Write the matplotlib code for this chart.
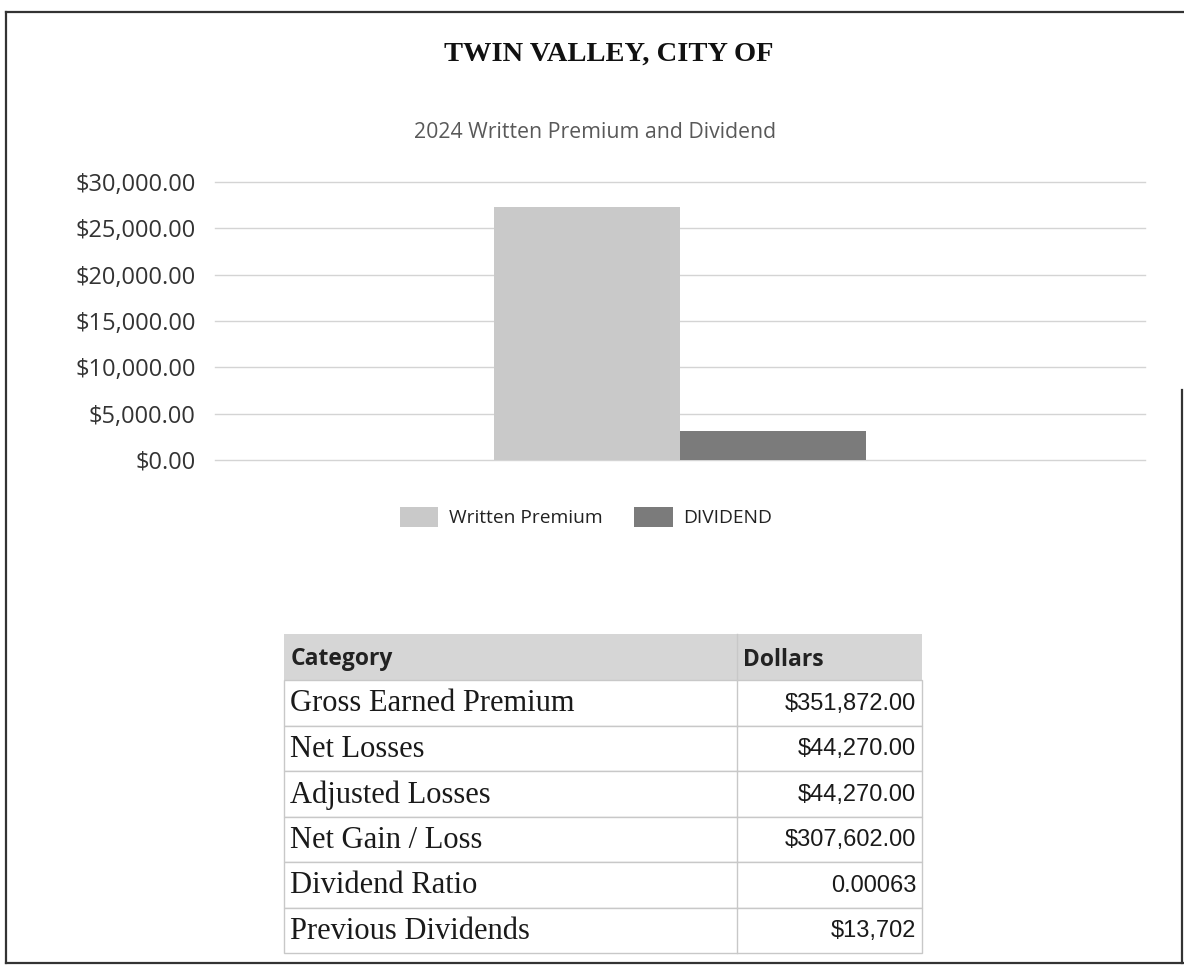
import matplotlib.pyplot as plt
from matplotlib.patches import Rectangle

# --- data ---
title = 'TWIN VALLEY, CITY OF'
chart_title = '2024 Written Premium and Dividend'
series_names = ['Written Premium', 'DIVIDEND']
series_values = [27250, 3100]
series_colors = ['#c9c9c9', '#7b7b7b']
y_ticks = [0, 5000, 10000, 15000, 20000, 25000, 30000]

table_header = ['Category', 'Dollars']
table_categories = ['Gross Earned Premium', 'Net Losses', 'Adjusted Losses',
                    'Net Gain / Loss', 'Dividend Ratio', 'Previous Dividends']
table_values = ['$351,872.00', '$44,270.00', '$44,270.00',
                '$307,602.00', '0.00063', '$13,702']

W, H = 1184, 965
fig = plt.figure(figsize=(W / 100, H / 100), dpi=100)

# overlay axes in pixel coordinates (border, titles, table)
bg = fig.add_axes([0, 0, 1, 1])
bg.set_xlim(0, W)
bg.set_ylim(H, 0)
bg.axis('off')

# page border
bg.plot([6, W], [12, 12], color='#333333', lw=1.6)
bg.plot([6, 6], [12, 963], color='#333333', lw=1.6)
bg.plot([6, W], [963, 963], color='#333333', lw=1.6)
bg.plot([1182, 1182], [390, 963], color='#333333', lw=1.6)

bg.text(609, 54, title, ha='center', va='center', fontsize=20.5,
        fontweight='bold', family='Liberation Serif', color='#111111')
bg.text(595, 133, chart_title, ha='center', va='center', fontsize=15.3,
        family='Open Sans', color='#595959')

# --- bar chart ---
x0, x1, ytop, ybot = 215, 1145, 182, 460
ax = fig.add_axes([x0 / W, 1 - ybot / H, (x1 - x0) / W, (ybot - ytop) / H])
width = 0.2
for i, (name, val, col) in enumerate(zip(series_names, series_values, series_colors)):
    ax.bar((i - 0.5) * width, val, width=width, color=col, label=name, zorder=3)
ax.set_xlim(-0.5, 0.5)
ax.set_ylim(0, 30000)
ax.set_yticks(y_ticks)
ax.set_yticklabels([f'${v:,.2f}' for v in y_ticks], family='Open Sans',
                   fontsize=17, color='#333333')
ax.set_xticks([])
ax.tick_params(axis='y', length=0, pad=14)
ax.grid(True, axis='y', color='#d4d4d4', lw=1.0, zorder=0)
for gl in ax.get_ygridlines():
    gl.set_clip_on(False)
for s in ax.spines.values():
    s.set_visible(False)

fig.legend(loc='center', bbox_to_anchor=(586 / W, 1 - 517 / H), ncol=2,
           frameon=False, prop={'family': 'Open Sans', 'size': 13.8},
           handlelength=2.0, handleheight=1.3, handletextpad=0.55,
           columnspacing=1.65, labelcolor='#222222')

# --- table ---
tx0, tsplit, tx1 = 284, 737, 922
ty0, header_h, row_h = 634, 46, 45.5
bg.add_patch(Rectangle((tx0, ty0), tx1 - tx0, header_h, facecolor='#d6d6d6',
                       edgecolor='none'))
bg.text(tx0 + 7, ty0 + header_h / 2 + 2, table_header[0], ha='left', va='center',
        fontsize=16.5, fontweight='bold', family='Open Sans', color='#222222')
bg.text(tsplit + 6, ty0 + header_h / 2 + 3, table_header[1], ha='left', va='center',
        fontsize=16.5, fontweight='bold', family='Open Sans', color='#222222')

y = ty0 + header_h
for cat, val in zip(table_categories, table_values):
    bg.add_patch(Rectangle((tx0, y), tx1 - tx0, row_h, facecolor='white',
                           edgecolor='#c8c8c8', lw=1.0))
    bg.plot([tsplit, tsplit], [y, y + row_h], color='#c8c8c8', lw=1.0)
    bg.text(tx0 + 6, y + row_h / 2 + 1, cat, ha='left', va='center',
            fontsize=22, family='Liberation Serif', color='#1a1a1a')
    bg.text(tx1 - 6, y + row_h / 2 + 1, val, ha='right', va='center',
            fontsize=17, family='Liberation Sans', color='#1a1a1a')
    y += row_h
bg.plot([tsplit, tsplit], [ty0, ty0 + header_h], color='#c8c8c8', lw=1.0)

fig.savefig('out.png', dpi=100)
